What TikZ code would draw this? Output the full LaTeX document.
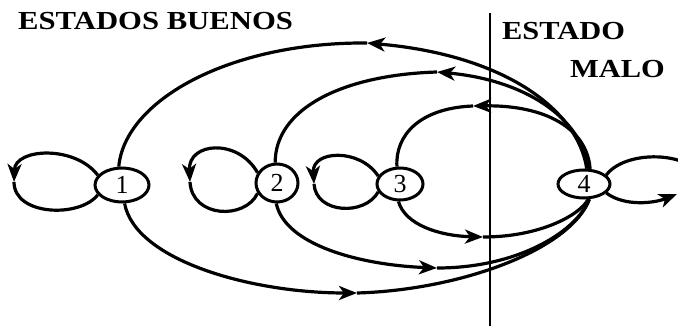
\documentclass[tikz,border=0pt]{standalone}
\usepackage{fontspec}
\setmainfont{Liberation Serif}
\usetikzlibrary{shapes.geometric,arrows.meta}
\tikzset{
  st/.style={draw, ellipse, line width=3pt, inner sep=0pt, font=\fontsize{26}{26}\selectfont},
  ln/.style={line width=3.2pt},
  arr/.style={ln, -{Stealth[length=18pt,width=14pt,inset=5pt]}},
  lbl/.style={anchor=base west, inner sep=0pt, font=\bfseries\fontsize{26}{26}\selectfont}
}
\begin{document}
\begin{tikzpicture}[x=1pt,y=-1pt]
\clip (0,0) rectangle (678,326);
\fill[white] (0,0) rectangle (678,326);
% nodes
\node[st, minimum width=54pt, minimum height=34pt] (n1) at (122,185) {1};
\node[st, minimum width=42pt, minimum height=38pt] (n2) at (277,183) {2};
\node[st, minimum width=46pt, minimum height=32pt] (n3) at (400,184) {3};
\node[st, minimum width=52pt, minimum height=28pt] (n4) at (584,184) {4};
% labels
\node[lbl] (t1) at (18,30) {\scalebox{1.18}[1]{ESTADOS BUENOS}};
\node[lbl] (t2) at (502,40) {\scalebox{1.17}[1]{ESTADO}};
\node[lbl] (t3) at (570,78) {\scalebox{1.17}[1]{MALO}};
% divider
\coordinate (vt) at (490,13);
\coordinate (vb) at (490,330);
\draw[overlay, line width=1.8pt] (vt) -- (vb);
% arrow points
\coordinate (a1) at (367,43);
\coordinate (a2) at (437,72);
\coordinate (a3) at (473,106);
\coordinate (b3) at (483,237);
\coordinate (b2) at (437,268);
\coordinate (b1) at (357,293);
% top arcs 4 -> 1,2,3
\draw[arr] (n4.80) .. controls (578,110) and (505,55) .. (a1);
\draw[ln] (a1) .. controls (230,42) and (125,100) .. (n1.100);
\draw[arr] (n4.74) .. controls (582,118) and (525,80) .. (a2);
\draw[ln] (a2) .. controls (340,75) and (275,110) .. (n2.95);
\draw[arr] (n4.68) .. controls (587,128) and (545,105) .. (a3);
\draw[ln] (a3) .. controls (420,108) and (395,135) .. (n3.100);
% bottom arcs 1,2,3 -> 4
\draw[arr] (n3.-95) .. controls (405,225) and (440,236) .. (b3);
\draw[ln] (b3) .. controls (540,237) and (580,215) .. (n4.-75);
\draw[arr] (n2.-92) .. controls (285,245) and (360,265) .. (b2);
\draw[ln] (b2) .. controls (520,268) and (578,230) .. (n4.-72);
\draw[arr] (n1.-82) .. controls (135,260) and (250,293) .. (b1);
\draw[ln] (b1) .. controls (460,290) and (570,250) .. (n4.-70);
% self loops
\coordinate (l1) at (14,182);
\draw[arr] (n1.158) .. controls (75,145) and (15,148) .. (l1);
\draw[ln] (l1) .. controls (14,216) and (80,218) .. (n1.202);
\coordinate (l2) at (190,182);
\draw[arr] (n2.152) .. controls (238,138) and (188,142) .. (l2);
\draw[ln] (l2) .. controls (192,218) and (245,220) .. (n2.208);
\coordinate (l3) at (314,184);
\draw[arr] (n3.160) .. controls (360,148) and (312,150) .. (l3);
\draw[ln] (l3) .. controls (316,214) and (365,216) .. (n3.200);
\coordinate (l4a) at (705,180);
\coordinate (l4b) at (677,194);
\draw[overlay, ln] (n4.22) .. controls (625,150) and (690,150) .. (l4a);
\draw[overlay, arr] (n4.-22) .. controls (625,207) and (655,203) .. (l4b);
\end{tikzpicture}
\end{document}
